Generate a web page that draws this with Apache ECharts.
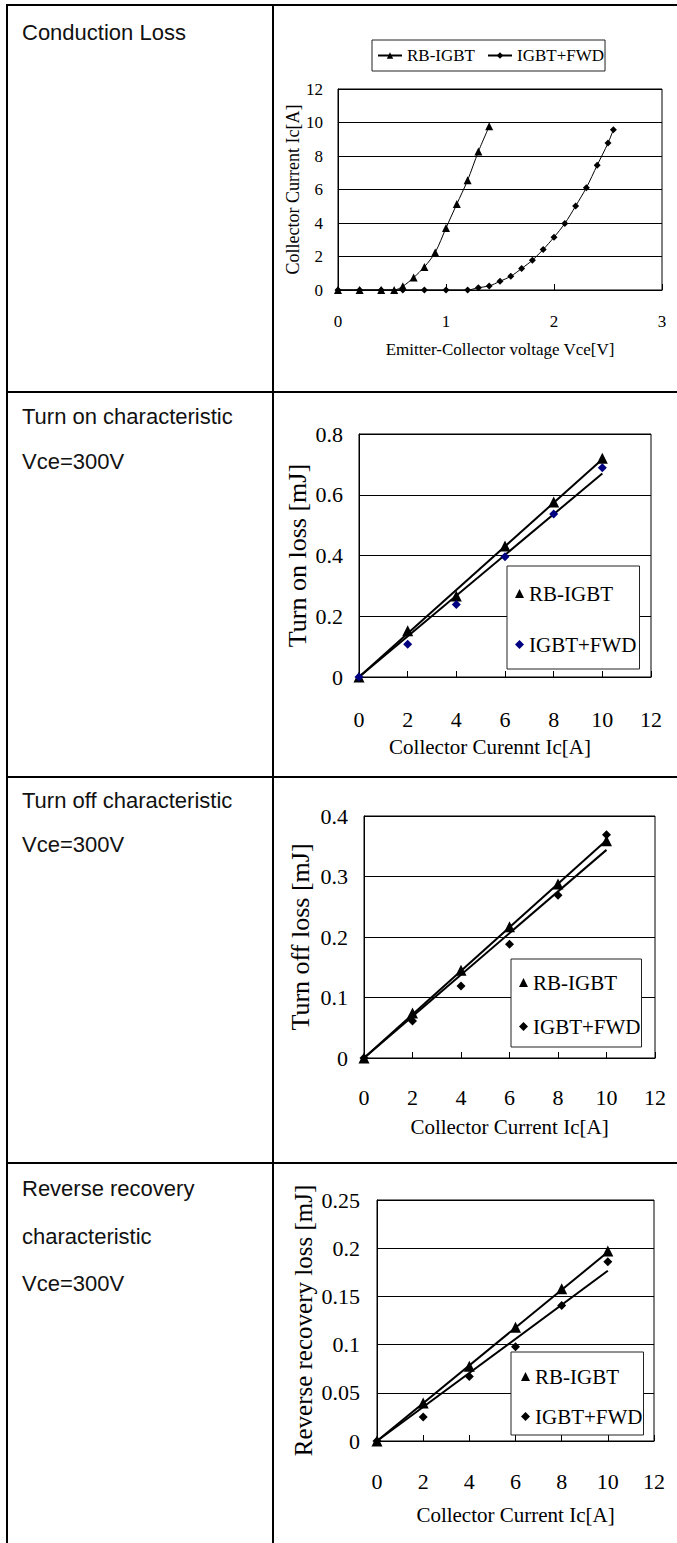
<!DOCTYPE html>
<html>
<head>
<meta charset="utf-8">
<script src="https://cdn.jsdelivr.net/npm/echarts@6/dist/echarts.min.js"></script>
<style>
  body { margin: 0; background: #fff; }
  #page { position: relative; width: 677px; height: 1543px; overflow: hidden; font-family: "Liberation Sans", Arial, sans-serif; }
  .hl { position: absolute; left: 6px; right: 0; height: 2px; background: #000; }
  .vl { position: absolute; top: 4px; bottom: 0; width: 2px; background: #000; }
  .cell { position: absolute; left: 22px; font-size: 22px; line-height: 26px; color: #111; white-space: nowrap; }
  #main { position: absolute; left: 0; top: 0; width: 677px; height: 1543px; }
</style>
</head>
<body>
<div id="page">
  <!-- table lines -->
  <div class="hl" style="top:4px"></div>
  <div class="hl" style="top:391px"></div>
  <div class="hl" style="top:776px"></div>
  <div class="hl" style="top:1162px"></div>
  <div class="vl" style="left:6px"></div>
  <div class="vl" style="left:272px"></div>

  <!-- left column -->
  <div class="cell" style="top:20px">Conduction Loss</div>
  <div class="cell" style="top:404px">Turn on characteristic</div>
  <div class="cell" style="top:449px">Vce=300V</div>
  <div class="cell" style="top:788px">Turn off characteristic</div>
  <div class="cell" style="top:832px">Vce=300V</div>
  <div class="cell" style="top:1176px">Reverse recovery</div>
  <div class="cell" style="top:1224px">characteristic</div>
  <div class="cell" style="top:1271px">Vce=300V</div>

  <div id="main"></div>
</div>
<script>
  // conduction loss: Vce / Ic points
  var vceRB = [0, 0.2, 0.4, 0.52, 0.6, 0.7, 0.8, 0.9, 1.0, 1.1, 1.2, 1.3, 1.4];
  var icRB = [0, 0, 0, 0, 0.22, 0.74, 1.38, 2.24, 3.7, 5.13, 6.55, 8.27, 9.77];
  var vceFWD = [0, 0.2, 0.4, 0.6, 0.8, 1.0, 1.2, 1.3, 1.4, 1.5, 1.6, 1.7, 1.8, 1.9, 2.0, 2.1, 2.2, 2.3, 2.4, 2.5, 2.55];
  var icFWD = [0, 0, 0, 0, 0, 0, 0, 0.14, 0.24, 0.52, 0.82, 1.28, 1.78, 2.42, 3.15, 3.97, 5.01, 6.11, 7.45, 8.77, 9.57];

  // switching losses [mJ] at Ic = 0..10 A
  var icSteps = [0, 2, 4, 6, 8, 10];
  var turnOnRB = [0, 0.152, 0.267, 0.431, 0.576, 0.72];
  var turnOnFWD = [0, 0.108, 0.239, 0.396, 0.537, 0.689];
  var turnOffRB = [0, 0.0745, 0.145, 0.217, 0.2875, 0.359];
  var turnOffFWD = [0, 0.061, 0.119, 0.188, 0.269, 0.369];
  var recRB = [0, 0.0395, 0.0776, 0.118, 0.158, 0.197];
  var recFWD = [0, 0.025, 0.067, 0.0977, 0.1406, 0.186];

  // trend lines (read at Ic = 0 and Ic = 10)
  var fitIc = [0, 10];
  var turnOnFitRB = [0, 0.717];
  var turnOnFitFWD = [0, 0.67];
  var turnOffFitRB = [0, 0.36];
  var turnOffFitFWD = [0, 0.344];
  var recFitRB = [0, 0.196];
  var recFitFWD = [0, 0.1766];

  // axis ticks
  var vceTicks = [0, 1, 2, 3];
  var icTicks = [0, 2, 4, 6, 8, 10, 12];
  var condTicks = [0, 2, 4, 6, 8, 10, 12];
  var onTicks = [0, 0.2, 0.4, 0.6, 0.8];
  var offTicks = [0, 0.1, 0.2, 0.3, 0.4];
  var recTicks = [0, 0.05, 0.1, 0.15, 0.2, 0.25];

  var serif = '"Liberation Serif", "Times New Roman", serif';

  function pts(xs, ys) {
    return xs.map(function (x, i) { return [x, ys[i]]; });
  }
  function cleanName(n) { return n.split('#')[0]; }

  function xAx(gi, ticks, name, o) {
    return {
      gridIndex: gi, type: 'value',
      min: ticks[0], max: ticks[ticks.length - 1], interval: ticks[1] - ticks[0],
      name: name, nameLocation: 'middle', nameGap: o.nameGap,
      nameTextStyle: { fontFamily: serif, fontSize: o.nameSize, color: '#000', padding: o.namePad || 0 },
      axisLine: { show: true, onZero: false, lineStyle: { color: '#000', width: 1 } },
      axisTick: { show: true, inside: true, length: 6, lineStyle: { color: '#000' } },
      axisLabel: { fontFamily: serif, fontSize: o.labelSize, color: '#000', margin: o.labelMargin },
      splitLine: { show: false }
    };
  }
  function yAx(gi, ticks, name, o) {
    return {
      gridIndex: gi, type: 'value',
      min: ticks[0], max: ticks[ticks.length - 1], interval: ticks[1] - ticks[0],
      name: name, nameLocation: 'middle', nameRotate: 90, nameGap: o.nameGap,
      nameTextStyle: { fontFamily: serif, fontSize: o.nameSize, color: '#000' },
      axisLine: { show: true, onZero: false, lineStyle: { color: '#000', width: 1 } },
      axisTick: { show: false },
      axisLabel: { fontFamily: serif, fontSize: o.labelSize, color: '#000', margin: o.labelMargin },
      splitLine: { show: true, lineStyle: { color: '#000', width: 1 } }
    };
  }
  function grid(l, t, w, h) {
    return { left: l, top: t, width: w, height: h, containLabel: false, outerBoundsMode: 'none',
      show: true, borderColor: '#000', borderWidth: 1, backgroundColor: 'transparent' };
  }
  function scatter(name, gi, xs, ys, sym, size, color) {
    return { name: name, type: 'scatter', xAxisIndex: gi, yAxisIndex: gi, symbol: sym, symbolSize: size,
      itemStyle: { color: color, opacity: 1 }, data: pts(xs, ys), z: 3 };
  }
  function trend(gi, ys) {
    return { type: 'line', xAxisIndex: gi, yAxisIndex: gi, showSymbol: false, symbol: 'none',
      lineStyle: { color: '#000', width: 2 }, data: pts(fitIc, ys), z: 2, silent: true };
  }
  function boxLegend(gi, left, top, pad, gap, size, textSize) {
    return {
      orient: 'vertical', left: left, top: top, padding: pad, itemGap: gap,
      itemWidth: size, itemHeight: size, borderColor: '#222', borderWidth: 1,
      backgroundColor: '#fff', selectedMode: false, formatter: cleanName,
      itemStyle: { opacity: 1 },
      textStyle: { fontFamily: serif, fontSize: textSize, color: '#000' },
      data: ['RB-IGBT#' + gi, 'IGBT+FWD#' + gi]
    };
  }

  var chart = echarts.init(document.getElementById('main'), null, { renderer: 'svg' });

  chart.setOption({
    animation: false,
    backgroundColor: 'transparent',
    grid: [
      grid(338, 89, 324, 201),
      grid(359, 434, 292, 243),
      grid(364, 816, 291, 242),
      grid(377, 1200, 277, 241)
    ],
    xAxis: [
      xAx(0, vceTicks, 'Emitter-Collector voltage Vce[V]', { nameGap: 51, nameSize: 17, labelSize: 17, labelMargin: 23 }),
      xAx(1, icTicks, 'Collector Curennt Ic[A]', { nameGap: 59, nameSize: 21, labelSize: 22, labelMargin: 31, namePad: [0, 30, 0, 0] }),
      xAx(2, icTicks, 'Collector Current Ic[A]', { nameGap: 58, nameSize: 21, labelSize: 22, labelMargin: 28 }),
      xAx(3, icTicks, 'Collector Current Ic[A]', { nameGap: 63, nameSize: 21, labelSize: 22, labelMargin: 29 })
    ],
    yAxis: [
      yAx(0, condTicks, 'Collector Current Ic[A]', { nameGap: 36, nameSize: 18, labelSize: 17, labelMargin: 15 }),
      yAx(1, onTicks, 'Turn on loss [mJ]', { nameGap: 49, nameSize: 26, labelSize: 22, labelMargin: 16 }),
      yAx(2, offTicks, 'Turn off loss [mJ]', { nameGap: 51, nameSize: 26, labelSize: 22, labelMargin: 16 }),
      yAx(3, recTicks, 'Reverse recovery loss [mJ]', { nameGap: 61, nameSize: 25, labelSize: 22, labelMargin: 17 })
    ],
    legend: [
      {
        left: 372, top: 40, padding: [7, 1, 7, 5], itemGap: 12,
        itemWidth: 24, itemHeight: 8, borderColor: '#222', borderWidth: 1,
        selectedMode: false, formatter: cleanName,
        textStyle: { fontFamily: serif, fontSize: 17, color: '#000' },
        data: ['RB-IGBT#0', 'IGBT+FWD#0']
      },
      boxLegend(1, 507, 566, [17, 3, 14, 8], 30, 9, 21),
      boxLegend(2, 511, 959, [13, 1, 10, 8], 23, 9, 21),
      boxLegend(3, 511, 1352, [14, 1, 8, 10], 19, 9, 21)
    ],
    series: [
      { name: 'RB-IGBT#0', type: 'line', xAxisIndex: 0, yAxisIndex: 0, smooth: 0.3,
        symbol: 'triangle', symbolSize: 8, color: '#000',
        lineStyle: { color: '#000', width: 1 }, itemStyle: { color: '#000' },
        data: pts(vceRB, icRB) },
      { name: 'IGBT+FWD#0', type: 'line', xAxisIndex: 0, yAxisIndex: 0, smooth: 0.3,
        symbol: 'diamond', symbolSize: 7, color: '#000',
        lineStyle: { color: '#000', width: 1 }, itemStyle: { color: '#000' },
        data: pts(vceFWD, icFWD) },

      trend(1, turnOnFitRB),
      trend(1, turnOnFitFWD),
      scatter('RB-IGBT#1', 1, icSteps, turnOnRB, 'triangle', 11, '#000'),
      scatter('IGBT+FWD#1', 1, icSteps, turnOnFWD, 'diamond', 9, '#000080'),

      trend(2, turnOffFitRB),
      trend(2, turnOffFitFWD),
      scatter('RB-IGBT#2', 2, icSteps, turnOffRB, 'triangle', 11, '#000'),
      scatter('IGBT+FWD#2', 2, icSteps, turnOffFWD, 'diamond', 9, '#000'),

      trend(3, recFitRB),
      trend(3, recFitFWD),
      scatter('RB-IGBT#3', 3, icSteps, recRB, 'triangle', 11, '#000'),
      scatter('IGBT+FWD#3', 3, icSteps, recFWD, 'diamond', 9, '#000')
    ]
  });
</script>
</body>
</html>
